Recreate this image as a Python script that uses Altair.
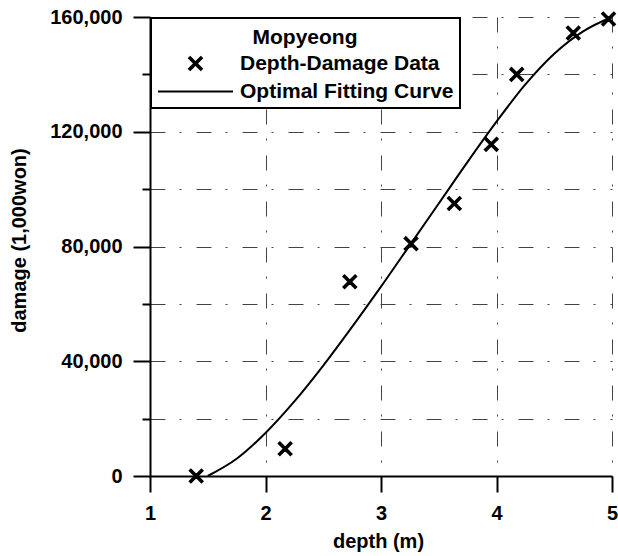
import altair as alt
import pandas as pd

# ---- data ----
depth_obs = [1.40, 2.17, 2.73, 3.26, 3.635, 3.955, 4.175, 4.665, 4.97]
damage_obs = [0, 9500, 67700, 81000, 95000, 115600, 140000, 154400, 159300]

curve_depth = [1.5, 1.75, 2.0, 2.25, 2.5, 2.75, 3.0, 3.25, 3.5, 3.75, 4.0, 4.25, 4.5, 4.75, 5.0]
curve_damage = [0, 6000, 15000, 26000, 38500, 52000, 66000, 80500, 95000,
                109500, 123500, 136500, 147200, 155000, 160000]

x_ticks = [1, 1.5, 2, 2.5, 3, 3.5, 4, 4.5, 5]
y_ticks = [0, 20000, 40000, 60000, 80000, 100000, 120000, 140000, 160000]

legend_title = "Mopyeong"
series_names = ["Depth-Damage Data", "Optimal Fitting Curve"]

FONT = "Liberation Sans"

# X glyph (filled polygon) in the [-1, 1] symbol box
X_PATH = ("M-0.17,-0.14L-0.14,-0.17L0,-0.03L0.14,-0.17L0.17,-0.14L0.03,0"
          "L0.17,0.14L0.14,0.17L0,0.03L-0.14,0.17L-0.17,0.14L-0.03,0Z")

df_obs = pd.DataFrame({"depth": depth_obs, "damage": damage_obs, "series": series_names[0]})
df_curve = pd.DataFrame({"depth": curve_depth, "damage": curve_damage, "series": series_names[1]})

x_scale = alt.Scale(domain=[1, 5], nice=False, zero=False)
y_scale = alt.Scale(domain=[0, 160000], nice=False, zero=False)

grid_dash = [15, 14, 2, 15]

x_axis = alt.Axis(
    values=x_ticks, title="depth (m)", format="d",
    labelExpr="datum.value % 1 === 0 ? datum.label : ''",
    tickSize={"condition": {"test": "datum.value % 1 !== 0", "value": 9}, "value": 16},
    labelPadding=11, labelFlush=False,
    titleX=228, titleY=71, titleBaseline="alphabetic", titleAlign="center",
    grid=True, gridDash=grid_dash, gridColor="#444444", gridWidth=1,
)
y_axis = alt.Axis(
    values=y_ticks, title="damage (1,000won)", format=",d",
    labelExpr="datum.value % 40000 === 0 ? datum.label : ''",
    tickSize={"condition": {"test": "datum.value % 40000 !== 0", "value": 8}, "value": 17},
    labelPadding=11, labelFlush=False,
    titleX=-131, titleY=223, titleAngle=270, titleBaseline="middle", titleAlign="center",
    grid=True, gridDash=grid_dash, gridColor="#444444", gridWidth=1,
)

line = alt.Chart(df_curve).mark_line(
    color="black", strokeWidth=2, interpolate="monotone"
).encode(
    x=alt.X("depth:Q", scale=x_scale, axis=x_axis),
    y=alt.Y("damage:Q", scale=y_scale, axis=y_axis),
)

points = alt.Chart(df_obs).mark_point(
    filled=True, fill="black", stroke="black", strokeWidth=2, size=5625, opacity=1
).encode(
    x=alt.X("depth:Q", scale=x_scale),
    y=alt.Y("damage:Q", scale=y_scale),
    shape=alt.Shape(
        "series:N",
        scale=alt.Scale(domain=series_names, range=[X_PATH, "stroke"]),
        legend=alt.Legend(
            title=legend_title, orient="none", legendX=1, legendY=1, direction="vertical",
            fillColor="white", strokeColor="black", padding=6,
            titleAnchor="middle", titleAlign="center", titleFontSize=21, titleFont=FONT,
            titleFontWeight="bold", titleColor="black", titleBaseline="line-top",
            titleLineHeight=27, titlePadding=9,
            labelFontSize=21, labelFont=FONT, labelFontWeight="bold", labelColor="black",
            labelOffset=6, labelLimit=400,
            symbolSize=5625, symbolStrokeWidth=2,
            clipHeight=19, rowPadding=6,
        ),
    ),
)

chart = alt.layer(line, points).properties(
    width=462, height=459,
    autosize=alt.AutoSizeParams(type="none"),
    padding={"left": 150, "top": 17, "right": 6, "bottom": 80},
    background="white",
).configure_view(stroke=None).configure_axis(
    domainColor="black", domainWidth=2, tickColor="black", tickWidth=2,
    labelFont=FONT, labelFontSize=20, labelFontWeight="bold", labelColor="black",
    titleFont=FONT, titleFontSize=20, titleFontWeight="bold", titleColor="black",
).configure_legend(strokeWidth=2)

chart.save("out.html", embed_options={"renderer": "svg", "actions": False})
